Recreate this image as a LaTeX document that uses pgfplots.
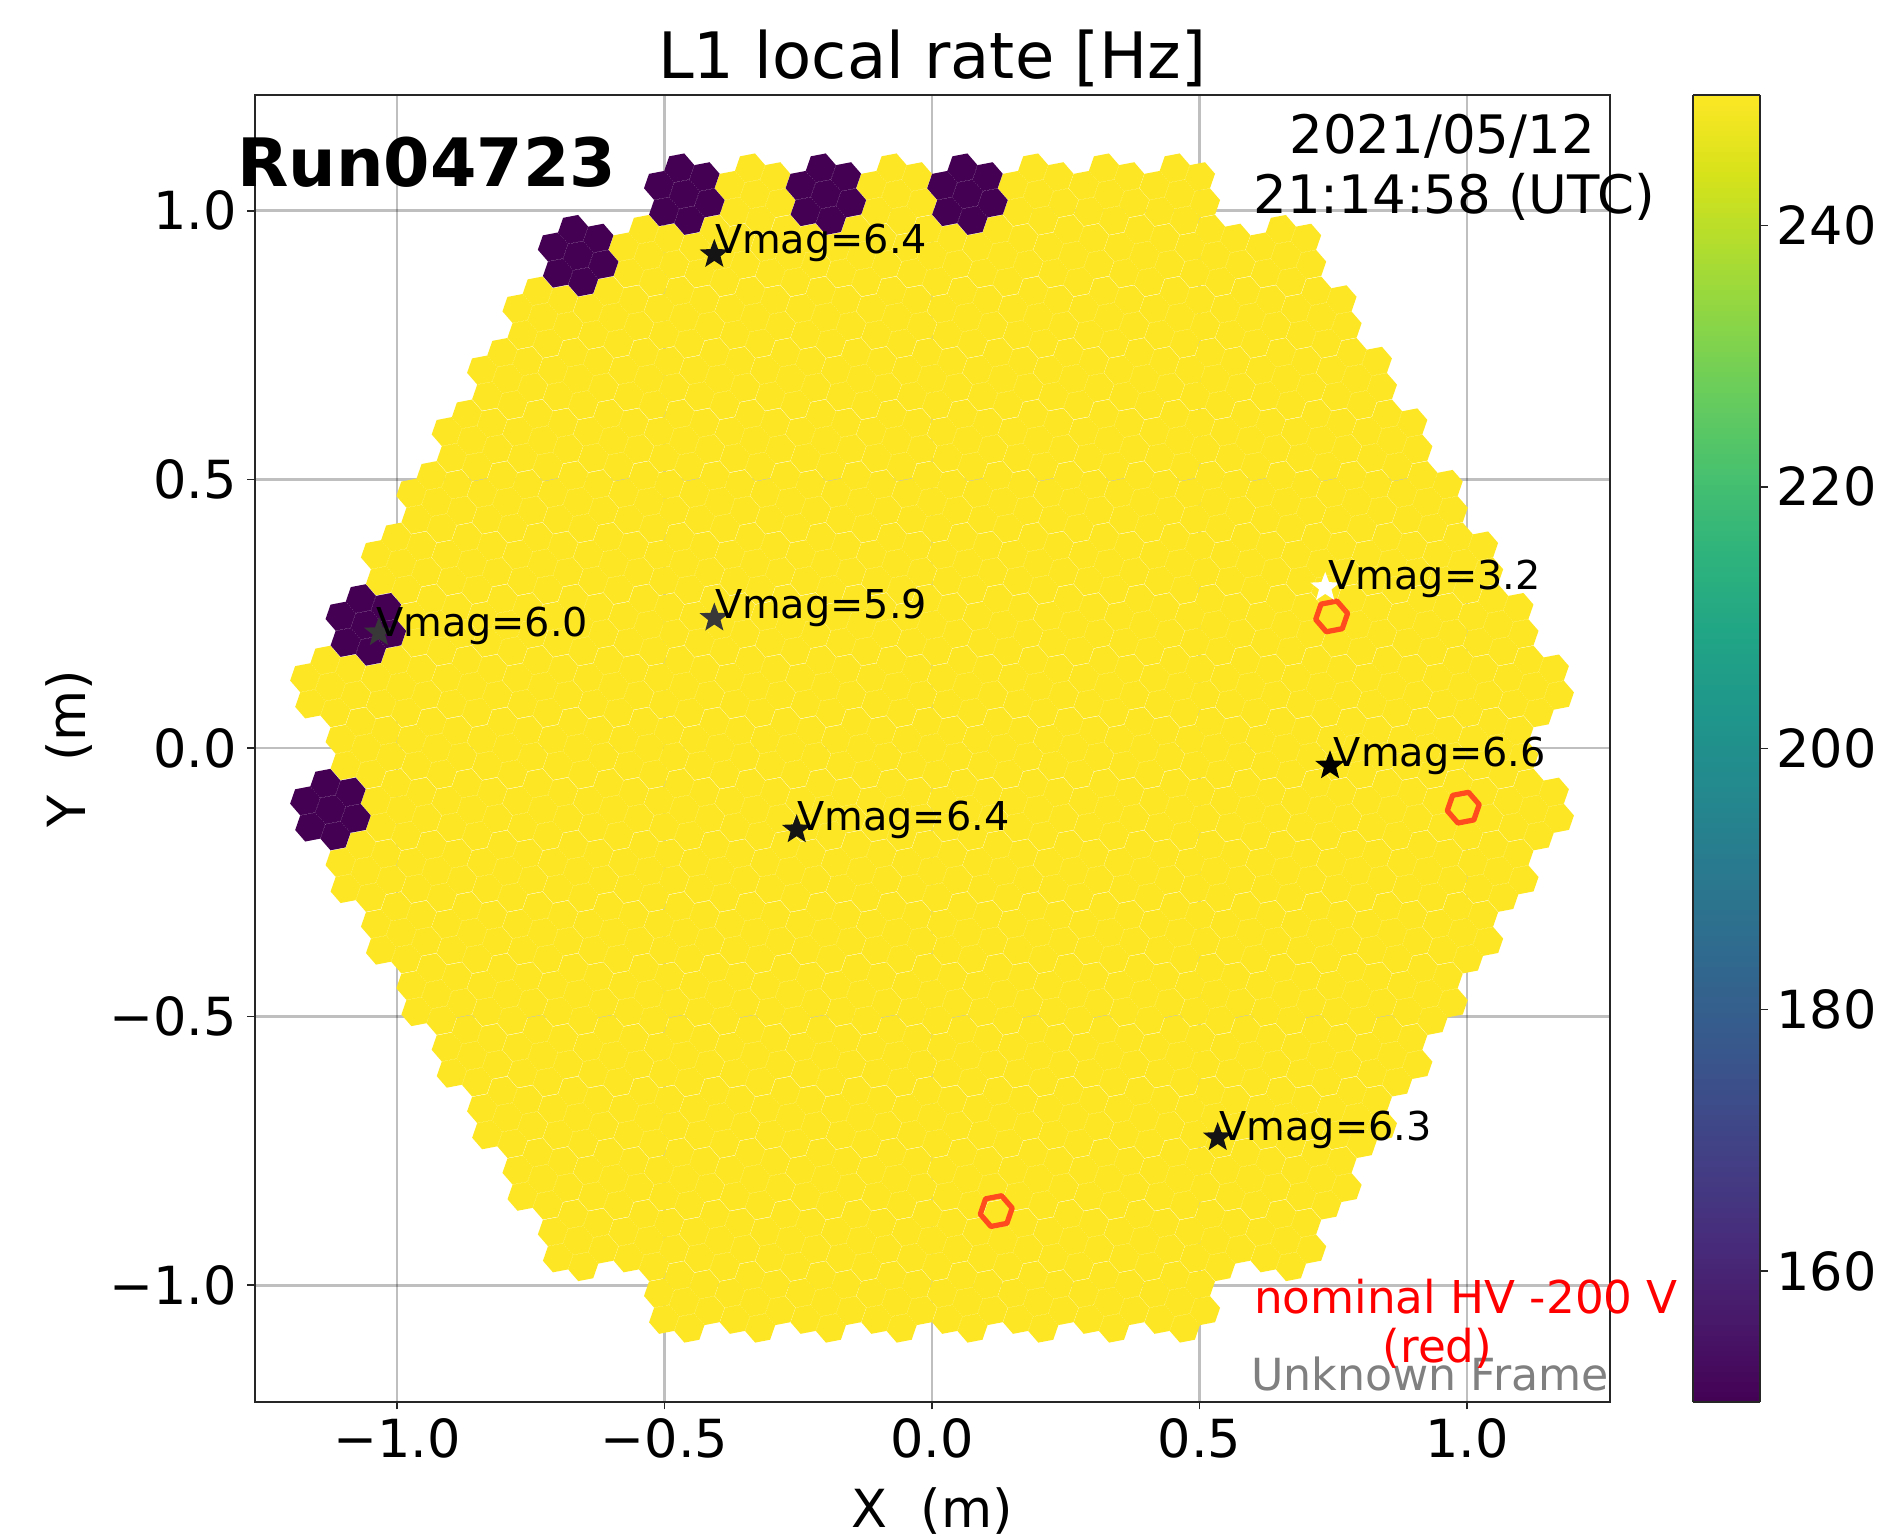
\documentclass[border=0pt]{standalone}
\usepackage{fontspec}
\setmainfont{DejaVu Sans}
\usepackage{pgfplots}
\pgfplotsset{compat=1.18}
\definecolor{ringred}{RGB}{255,75,30}
\newcommand\hexR{6.1pt}
\newcommand\hexat[3][\hexR]{%
  \pgfpathmoveto{\pgfpointadd{\pgfqpoint{#2pt}{#3pt}}{\pgfpointpolar{10.893}{#1}}}%
  \pgfpathlineto{\pgfpointadd{\pgfqpoint{#2pt}{#3pt}}{\pgfpointpolar{70.893}{#1}}}%
  \pgfpathlineto{\pgfpointadd{\pgfqpoint{#2pt}{#3pt}}{\pgfpointpolar{130.893}{#1}}}%
  \pgfpathlineto{\pgfpointadd{\pgfqpoint{#2pt}{#3pt}}{\pgfpointpolar{190.893}{#1}}}%
  \pgfpathlineto{\pgfpointadd{\pgfqpoint{#2pt}{#3pt}}{\pgfpointpolar{250.893}{#1}}}%
  \pgfpathlineto{\pgfpointadd{\pgfqpoint{#2pt}{#3pt}}{\pgfpointpolar{310.893}{#1}}}%
  \pgfpathclose}
\pgfdeclareplotmark{pixmod}{%
  \pgfsetcornersarced{\pgfqpoint{1.5pt}{1.5pt}}%
  \hexat{0}{0}\hexat{-2.026}{10.527}\hexat{2.026}{-10.527}%
  \hexat{8.105}{7.017}\hexat{-8.105}{-7.017}%
  \hexat{10.131}{-3.510}\hexat{-10.131}{3.510}%
  \pgfusepathqfill}
\pgfdeclareplotmark{hexring}{%
  \pgfsetroundjoin
  \pgfsetlinewidth{2.1pt}%
  \hexat[6.5pt]{0}{0}\pgfusepathqstroke}
\pgfdeclareplotmark{fstar}{%
  \pgfpathmoveto{\pgfpointpolar{90}{6.2pt}}%
  \pgfpathlineto{\pgfpointpolar{126}{2.6pt}}%
  \pgfpathlineto{\pgfpointpolar{162}{6.2pt}}%
  \pgfpathlineto{\pgfpointpolar{198}{2.6pt}}%
  \pgfpathlineto{\pgfpointpolar{234}{6.2pt}}%
  \pgfpathlineto{\pgfpointpolar{270}{2.6pt}}%
  \pgfpathlineto{\pgfpointpolar{306}{6.2pt}}%
  \pgfpathlineto{\pgfpointpolar{342}{2.6pt}}%
  \pgfpathlineto{\pgfpointpolar{18}{6.2pt}}%
  \pgfpathlineto{\pgfpointpolar{54}{2.6pt}}%
  \pgfpathclose\pgfusepathqfill}
\begin{document}
\begin{tikzpicture}
\useasboundingbox (-101.92pt,-54.48pt) rectangle (657.28pt,560.72pt);
\begin{axis}[
  at={(0pt,0pt)}, anchor=south west,
  scale only axis, width=542pt, height=522.8pt,
  xmin=-1.266, xmax=1.267, ymin=-1.217, ymax=1.216,
  axis on top,
  axis line style={black!85, line width=0.7pt},
  tick align=outside, tick pos=left,
  major tick length=3pt,
  tick style={black!85, line width=0.6pt},
  grid=major,
  major grid style={black, opacity=0.25, line width=1.1pt},
  xtick={-1,-0.5,0,0.5,1},
  xticklabels={−1.0,−0.5,0.0,0.5,1.0},
  ytick={-1,-0.5,0,0.5,1},
  yticklabels={−1.0,−0.5,0.0,0.5,1.0},
  tick label style={font=\fontsize{21}{25}\selectfont},
  yticklabel style={xshift=-0.6pt},
  title={L1 local rate [Hz]},
  title style={font=\fontsize{25.6}{30}\selectfont, at={(0.5,1)}, anchor=base, yshift=0.5pt, inner sep=0pt},
  xlabel={X\ \ (m)},
  xlabel style={font=\fontsize{21}{25}\selectfont, at={(0.5,0)}, anchor=base, yshift=-50.4pt, inner sep=0pt},
  ylabel={Y\ \ (m)},
  ylabel style={font=\fontsize{21}{25}\selectfont, at={(0,0.5)}, anchor=base, yshift=67.6pt, inner sep=0pt},
  colormap/viridis,
  point meta min=150, point meta max=250,
  colorbar sampled,
  colorbar shift/.style={xshift=32.8pt},
  colorbar style={
    samples=256,
    width=26.8pt,
    grid=none,
    xmin=0, xmax=1,
    ytick={160,180,200,220,240},
    yticklabels={160,180,200,220,240},
    tick pos=right,
    tick align=outside, major tick length=3pt,
    tick style={black!85, line width=0.6pt},
    axis line style={black!85, line width=0.7pt},
    yticklabel style={font=\fontsize{21}{25}\selectfont},
  },
]
% camera modules (centre of each 7-pixel module), rate saturated at the top of the scale
\addplot[scatter, only marks, mark=pixmod, point meta={250},
  scatter/use mapped color={fill=mapped color, draw=none}] coordinates {
(-0.3308,1.031)(-0.0662,1.031)(0.1985,1.031)(0.3308,1.031)(0.4631,1.031)
(-0.5292,0.9165)(-0.3969,0.9165)(-0.2646,0.9165)(-0.1323,0.9165)(0,0.9165)(0.1323,0.9165)(0.2646,0.9165)(0.3969,0.9165)(0.5292,0.9165)(0.6615,0.9165)
(-0.7277,0.8019)(-0.5954,0.8019)(-0.4631,0.8019)(-0.3308,0.8019)(-0.1985,0.8019)(-0.0662,0.8019)(0.0662,0.8019)(0.1985,0.8019)(0.3308,0.8019)(0.4631,0.8019)(0.5954,0.8019)(0.7277,0.8019)
(-0.7938,0.6874)(-0.6615,0.6874)(-0.5292,0.6874)(-0.3969,0.6874)(-0.2646,0.6874)(-0.1323,0.6874)(0,0.6874)(0.1323,0.6874)(0.2646,0.6874)(0.3969,0.6874)(0.5292,0.6874)(0.6615,0.6874)(0.7938,0.6874)
(-0.86,0.5728)(-0.7277,0.5728)(-0.5954,0.5728)(-0.4631,0.5728)(-0.3308,0.5728)(-0.1985,0.5728)(-0.0662,0.5728)(0.0662,0.5728)(0.1985,0.5728)(0.3308,0.5728)(0.4631,0.5728)(0.5954,0.5728)(0.7277,0.5728)(0.86,0.5728)
(-0.9261,0.4582)(-0.7938,0.4582)(-0.6615,0.4582)(-0.5292,0.4582)(-0.3969,0.4582)(-0.2646,0.4582)(-0.1323,0.4582)(0,0.4582)(0.1323,0.4582)(0.2646,0.4582)(0.3969,0.4582)(0.5292,0.4582)(0.6615,0.4582)(0.7938,0.4582)(0.9261,0.4582)
(-0.9923,0.3437)(-0.86,0.3437)(-0.7277,0.3437)(-0.5954,0.3437)(-0.4631,0.3437)(-0.3308,0.3437)(-0.1985,0.3437)(-0.0662,0.3437)(0.0662,0.3437)(0.1985,0.3437)(0.3308,0.3437)(0.4631,0.3437)(0.5954,0.3437)(0.7277,0.3437)(0.86,0.3437)(0.9923,0.3437)
(-0.9261,0.2291)(-0.7938,0.2291)(-0.6615,0.2291)(-0.5292,0.2291)(-0.3969,0.2291)(-0.2646,0.2291)(-0.1323,0.2291)(0,0.2291)(0.1323,0.2291)(0.2646,0.2291)(0.3969,0.2291)(0.5292,0.2291)(0.6615,0.2291)(0.7938,0.2291)(0.9261,0.2291)(1.0584,0.2291)
(-1.1246,0.1146)(-0.9923,0.1146)(-0.86,0.1146)(-0.7277,0.1146)(-0.5954,0.1146)(-0.4631,0.1146)(-0.3308,0.1146)(-0.1985,0.1146)(-0.0662,0.1146)(0.0662,0.1146)(0.1985,0.1146)(0.3308,0.1146)(0.4631,0.1146)(0.5954,0.1146)(0.7277,0.1146)(0.86,0.1146)(0.9923,0.1146)(1.1246,0.1146)
(-1.0584,0)(-0.9261,0)(-0.7938,0)(-0.6615,0)(-0.5292,0)(-0.3969,0)(-0.2646,0)(-0.1323,0)(0,0)(0.1323,0)(0.2646,0)(0.3969,0)(0.5292,0)(0.6615,0)(0.7938,0)(0.9261,0)(1.0584,0)
(-0.9923,-0.1146)(-0.86,-0.1146)(-0.7277,-0.1146)(-0.5954,-0.1146)(-0.4631,-0.1146)(-0.3308,-0.1146)(-0.1985,-0.1146)(-0.0662,-0.1146)(0.0662,-0.1146)(0.1985,-0.1146)(0.3308,-0.1146)(0.4631,-0.1146)(0.5954,-0.1146)(0.7277,-0.1146)(0.86,-0.1146)(0.9923,-0.1146)(1.1246,-0.1146)
(-1.0584,-0.2291)(-0.9261,-0.2291)(-0.7938,-0.2291)(-0.6615,-0.2291)(-0.5292,-0.2291)(-0.3969,-0.2291)(-0.2646,-0.2291)(-0.1323,-0.2291)(0,-0.2291)(0.1323,-0.2291)(0.2646,-0.2291)(0.3969,-0.2291)(0.5292,-0.2291)(0.6615,-0.2291)(0.7938,-0.2291)(0.9261,-0.2291)(1.0584,-0.2291)
(-0.9923,-0.3437)(-0.86,-0.3437)(-0.7277,-0.3437)(-0.5954,-0.3437)(-0.4631,-0.3437)(-0.3308,-0.3437)(-0.1985,-0.3437)(-0.0662,-0.3437)(0.0662,-0.3437)(0.1985,-0.3437)(0.3308,-0.3437)(0.4631,-0.3437)(0.5954,-0.3437)(0.7277,-0.3437)(0.86,-0.3437)(0.9923,-0.3437)
(-0.9261,-0.4582)(-0.7938,-0.4582)(-0.6615,-0.4582)(-0.5292,-0.4582)(-0.3969,-0.4582)(-0.2646,-0.4582)(-0.1323,-0.4582)(0,-0.4582)(0.1323,-0.4582)(0.2646,-0.4582)(0.3969,-0.4582)(0.5292,-0.4582)(0.6615,-0.4582)(0.7938,-0.4582)(0.9261,-0.4582)
(-0.86,-0.5728)(-0.7277,-0.5728)(-0.5954,-0.5728)(-0.4631,-0.5728)(-0.3308,-0.5728)(-0.1985,-0.5728)(-0.0662,-0.5728)(0.0662,-0.5728)(0.1985,-0.5728)(0.3308,-0.5728)(0.4631,-0.5728)(0.5954,-0.5728)(0.7277,-0.5728)(0.86,-0.5728)
(-0.7938,-0.6874)(-0.6615,-0.6874)(-0.5292,-0.6874)(-0.3969,-0.6874)(-0.2646,-0.6874)(-0.1323,-0.6874)(0,-0.6874)(0.1323,-0.6874)(0.2646,-0.6874)(0.3969,-0.6874)(0.5292,-0.6874)(0.6615,-0.6874)(0.7938,-0.6874)
(-0.7277,-0.8019)(-0.5954,-0.8019)(-0.4631,-0.8019)(-0.3308,-0.8019)(-0.1985,-0.8019)(-0.0662,-0.8019)(0.0662,-0.8019)(0.1985,-0.8019)(0.3308,-0.8019)(0.4631,-0.8019)(0.5954,-0.8019)(0.7277,-0.8019)
(-0.6615,-0.9165)(-0.5292,-0.9165)(-0.3969,-0.9165)(-0.2646,-0.9165)(-0.1323,-0.9165)(0,-0.9165)(0.1323,-0.9165)(0.2646,-0.9165)(0.3969,-0.9165)(0.5292,-0.9165)(0.6615,-0.9165)
(-0.4631,-1.031)(-0.3308,-1.031)(-0.1985,-1.031)(-0.0662,-1.031)(0.0662,-1.031)(0.1985,-1.031)(0.3308,-1.031)(0.4631,-1.031)
};
% modules with a low rate
\addplot[scatter, only marks, mark=pixmod, point meta={150},
  scatter/use mapped color={fill=mapped color, draw=none}] coordinates {
(-0.4631,1.031)(-0.1985,1.031)(0.0662,1.031)(-0.6615,0.9165)(-1.0584,0.2291)(-1.1246,-0.1146)
};
% pixels at nominal HV -200 V
\addplot[only marks, mark=hexring, mark options={draw=ringred, fill=none}] coordinates {
(0.747,0.245)(0.993,-0.111)(0.120,-0.862)
};
% stars
\addplot[only marks, mark=fstar, mark options={fill=white, draw=none}] coordinates {(0.735,0.299)};
\addplot[only marks, mark=fstar, mark options={fill=black!78, draw=none}] coordinates {(-1.034,0.215)(-0.407,0.242)};
\addplot[only marks, mark=fstar, mark options={fill=black!92, draw=none}] coordinates {(-0.407,0.919)(-0.253,-0.152)(0.534,-0.725)};
\addplot[only marks, mark=fstar, mark options={fill=black, draw=none}] coordinates {(0.744,-0.033)};
\end{axis}
\tikzset{lab/.style={inner sep=0pt, anchor=base west, font=\fontsize{15.9}{19}\selectfont}}
\node[lab] at (-0.407*214pt+271pt,0.919*214.8pt+262.1pt) {Vmag=6.4};
\node[lab] at (-1.034*214pt+269.6pt,0.215*214.8pt+259.9pt) {Vmag=6.0};
\node[lab] at (-0.407*214pt+271pt,0.242*214.8pt+261.3pt) {Vmag=5.9};
\node[lab] at (-0.253*214pt+271pt,-0.152*214.8pt+261.3pt) {Vmag=6.4};
\node[lab] at (0.735*214pt+272pt,0.299*214.8pt+260.5pt) {Vmag=3.2};
\node[lab] at (0.744*214pt+272.2pt,-0.033*214.8pt+261.3pt) {Vmag=6.6};
\node[lab] at (0.534*214pt+271.4pt,-0.725*214.8pt+260.4pt) {Vmag=6.3};
\node[inner sep=0pt, anchor=base west, font=\fontsize{26.7}{30}\selectfont\bfseries] at (-7.2pt,486.3pt) {Run04723};
\node[inner sep=0pt, anchor=base, font=\fontsize{21.2}{25}\selectfont] at (474.9pt,499.2pt) {2021/05/12};
\node[inner sep=0pt, anchor=base, font=\fontsize{21.2}{25}\selectfont] at (479.7pt,475.5pt) {21:14:58 (UTC)};
\node[inner sep=0pt, anchor=base east, font=\fontsize{17.7}{21}\selectfont, text=black!50] at (541.7pt,4.7pt) {Unknown Frame};
\node[inner sep=0pt, anchor=base, font=\fontsize{18.1}{22}\selectfont, text=red] at (484.5pt,35.5pt) {nominal HV -200 V};
\node[inner sep=0pt, anchor=base, font=\fontsize{18.1}{22}\selectfont, text=red] at (473.1pt,15.9pt) {(red)};
\end{tikzpicture}
\end{document}
